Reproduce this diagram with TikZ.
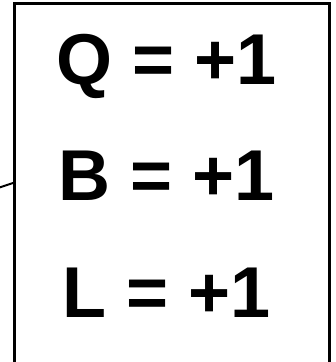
\documentclass[tikz,border=0pt]{standalone}
\usepackage{fontspec}
\setmainfont{Liberation Sans}
\begin{document}
\begin{tikzpicture}[x=1pt,y=-1pt,
  qlabel/.style={font=\fontsize{72}{80}\selectfont\bfseries, anchor=base, inner sep=0pt},
  boxline/.style={line width=3.3pt, line cap=butt, line join=miter},
  lead/.style={line width=2pt}]
\useasboundingbox (0,0) rectangle (336,362);
\clip (0,0) rectangle (336,362);
\fill[white] (0,0) rectangle (336,362);
\coordinate (bl) at (14.5,380);
\coordinate (tl) at (14.5,3.7);
\coordinate (tr) at (329.3,3.7);
\coordinate (br) at (329.3,380);
\draw[boxline] (bl) -- (tl) -- (tr) -- (br);
\node[qlabel] (q) at (167,84) {Q = +1};
\node[qlabel] (b) at (167,200.5) {B = +1};
\node[qlabel] (l) at (167,317) {L = +1};
\coordinate (leadend) at (-2,188);
\coordinate (leadjoin) at (14.5,182.5);
\draw[lead] (leadend) -- (leadjoin);
\end{tikzpicture}
\end{document}
